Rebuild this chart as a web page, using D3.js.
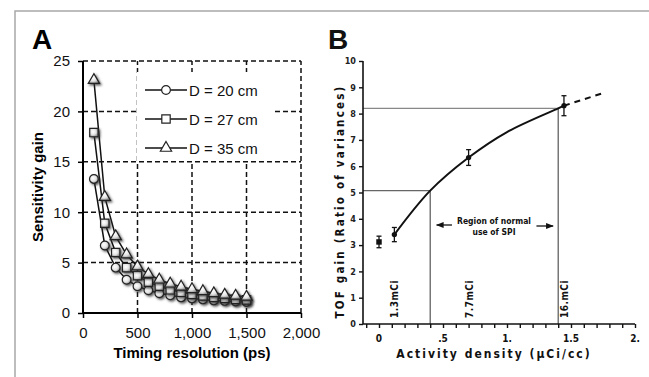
<!DOCTYPE html>
<html>
<head>
<meta charset="utf-8">
<script src="https://cdn.jsdelivr.net/npm/d3@7"></script>
<style>
  body { margin: 0; background: #fff; }
  svg { display: block; }
</style>
</head>
<body>
<div id="chart"></div>
<script>
// ---- panel A data ----
const timing = [100, 200, 300, 400, 500, 600, 700, 800, 900, 1000, 1100, 1200, 1300, 1400, 1500];
const gainD20 = [13.3, 6.7, 4.5, 3.3, 2.65, 2.25, 1.95, 1.75, 1.55, 1.45, 1.35, 1.25, 1.2, 1.15, 1.1];
const gainD27 = [17.9, 8.9, 6.0, 4.5, 3.7, 3.05, 2.65, 2.3, 2.05, 1.85, 1.7, 1.55, 1.45, 1.35, 1.3];
const gainD35 = [23.1, 11.5, 7.6, 5.8, 4.6, 3.85, 3.3, 2.9, 2.6, 2.35, 2.15, 1.95, 1.8, 1.7, 1.6];
const seriesNames = ['D = 20 cm', 'D = 27 cm', 'D = 35 cm'];
const aXTicks = [0, 500, 1000, 1500, 2000];
const aYTicks = [0, 5, 10, 15, 20, 25];

// ---- panel B data ----
const densX = [0, 0.12, 0.7, 1.445];
const tofY = [3.12, 3.4, 6.33, 8.3];
const tofErr = [0.22, 0.27, 0.3, 0.38];
const curveX = [0.12, 0.4, 0.7, 1.0, 1.4, 1.445];
const curveY = [3.4, 5.07, 6.33, 7.3, 8.2, 8.3];
const extX = [1.445, 1.75];
const extY = [8.3, 8.78];
const refX = [0.4, 1.4];
const refY = [5.07, 8.2];
const doseLabels = ['1.3mCi', '7.7mCi', '16.mCi'];
const doseX = [0.12, 0.7, 1.445];
const bXLabels = [[0, '0'], [0.5, '.5'], [1, '1.'], [1.5, '1.5'], [2, '2.']];
const bYTicks = d3.range(0, 11);
const bMinor = d3.range(-1, 21).map(d => d / 10);

const W = 649, H = 377;
const svg = d3.select('#chart').append('svg').attr('width', W).attr('height', H);

// grey frame of the figure
svg.append('path').attr('d', `M15,${H} L15,11 L${W},11`)
    .attr('fill', 'none').attr('stroke', '#a8a8a8').attr('stroke-width', 1.5);

const defs = svg.append('defs');
const grad = defs.append('radialGradient').attr('id', 'mk').attr('cx', '40%').attr('cy', '40%').attr('r', '65%');
grad.append('stop').attr('offset', '0%').attr('stop-color', '#fff');
grad.append('stop').attr('offset', '55%').attr('stop-color', '#e4e4e4');
grad.append('stop').attr('offset', '100%').attr('stop-color', '#8a8a8a');
const shadow = defs.append('filter').attr('id', 'sh').attr('x', '-50%').attr('y', '-50%').attr('width', '200%').attr('height', '200%');
shadow.append('feDropShadow').attr('dx', 1.5).attr('dy', 1.5).attr('stdDeviation', 1.2)
    .attr('flood-color', '#333').attr('flood-opacity', 0.8);

// ================= PANEL A =================
const ax = d3.scaleLinear().domain([0, 2000]).range([83, 301]);
const ay = d3.scaleLinear().domain([0, 25]).range([313, 61]);
const A = svg.append('g').attr('font-family', 'Liberation Sans, Arial, sans-serif');

A.append('text').attr('x', 32).attr('y', 49).attr('font-size', 28).attr('font-weight', 'bold').text('A');

// dashed grid
A.append('g').selectAll('line').data(aXTicks.slice(1)).join('line')
    .attr('x1', d => ax(d)).attr('x2', d => ax(d)).attr('y1', ay(0)).attr('y2', ay(25))
    .attr('stroke', '#111').attr('stroke-width', 1.5).attr('stroke-dasharray', '5,3');
A.append('g').selectAll('line').data(aYTicks.slice(1)).join('line')
    .attr('x1', ax(0)).attr('x2', ax(2000)).attr('y1', d => ay(d)).attr('y2', d => ay(d))
    .attr('stroke', '#111').attr('stroke-width', 1.5).attr('stroke-dasharray', '5,3');

// legend background hides the grid
A.append('rect').attr('x', 137).attr('y', 72).attr('width', 138).attr('height', 89).attr('fill', '#fff');

// axes
const axL = A.append('g').attr('transform', `translate(${ax(0)},0)`)
    .call(d3.axisLeft(ay).tickValues(aYTicks).tickSize(5).tickPadding(8));
const axB = A.append('g').attr('transform', `translate(0,${ay(0)})`)
    .call(d3.axisBottom(ax).tickValues(aXTicks).tickSize(5).tickPadding(9).tickFormat(d3.format(',')));
[axL, axB].forEach(g => {
    g.select('.domain').attr('stroke', '#000').attr('stroke-width', 2);
    g.selectAll('.tick line').attr('stroke', '#000').attr('stroke-width', 1.5);
    g.selectAll('text').attr('font-size', 15).attr('fill', '#111').attr('font-family', 'Liberation Sans, Arial, sans-serif');
});
axL.select('.domain').attr('d', `M0,${ay(0)}V${ay(25)}`);
axB.select('.domain').attr('d', `M${ax(0)},0H${ax(2000)}`);

A.append('text').attr('x', (ax(0) + ax(2000)) / 2).attr('y', 358).attr('text-anchor', 'middle')
    .attr('font-size', 15).attr('font-weight', 'bold').text('Timing resolution (ps)');
A.append('text').attr('transform', `translate(43,${(ay(0) + ay(25)) / 2}) rotate(-90)`).attr('text-anchor', 'middle')
    .attr('font-size', 15).attr('font-weight', 'bold').text('Sensitivity gain');

// series
const shapes = [d3.symbolCircle, d3.symbolSquare, d3.symbolTriangle];
const sizes = [60, 70, 55];
const allSeries = [gainD20, gainD27, gainD35];
const line = d3.line().x(d => ax(d[0])).y(d => ay(d[1]));
allSeries.forEach((vals, i) => {
    const pts = timing.map((t, j) => [t, vals[j]]);
    A.append('path').datum(pts).attr('d', line).attr('fill', 'none').attr('stroke', '#111').attr('stroke-width', 1.5);
});
allSeries.forEach((vals, i) => {
    const pts = timing.map((t, j) => [t, vals[j]]);
    A.append('g').selectAll('path').data(pts).join('path')
        .attr('transform', d => `translate(${ax(d[0])},${ay(d[1])})`)
        .attr('d', d3.symbol(shapes[i], sizes[i]))
        .attr('fill', 'url(#mk)').attr('stroke', '#222').attr('stroke-width', 1.2)
        .attr('filter', 'url(#sh)');
});

// legend
const lg = A.append('g');
seriesNames.forEach((name, i) => {
    const y = 90 + i * 29;
    lg.append('line').attr('x1', 145).attr('x2', 187).attr('y1', y).attr('y2', y).attr('stroke', '#111').attr('stroke-width', 1.5);
    lg.append('path').attr('transform', `translate(166,${y})`).attr('d', d3.symbol(shapes[i], sizes[i]))
        .attr('fill', '#fff').attr('stroke', '#222').attr('stroke-width', 1.2);
    lg.append('text').attr('x', 189).attr('y', y + 5.5).attr('font-size', 15).attr('fill', '#111').text(name);
});

// ================= PANEL B =================
const bx = d3.scaleLinear().domain([-0.125, 2.0]).range([363, 635]);
const by = d3.scaleLinear().domain([0, 10]).range([324, 61]);
const bFont = '"DejaVu Sans Condensed", "DejaVu Sans", sans-serif';
const B = svg.append('g').attr('font-family', bFont).attr('font-weight', 'bold').attr('fill', '#111');

B.append('text').attr('x', 328).attr('y', 49).attr('font-size', 28)
    .attr('font-family', 'Liberation Sans, Arial, sans-serif').text('B');

// reference lines
B.append('line').attr('x1', bx(-0.125)).attr('x2', bx(refX[1])).attr('y1', by(refY[1])).attr('y2', by(refY[1]))
    .attr('stroke', '#888').attr('stroke-width', 1.2);
B.append('line').attr('x1', bx(-0.125)).attr('x2', bx(refX[0])).attr('y1', by(refY[0])).attr('y2', by(refY[0]))
    .attr('stroke', '#666').attr('stroke-width', 1.2);
refX.forEach((x, i) => {
    B.append('line').attr('x1', bx(x)).attr('x2', bx(x)).attr('y1', by(refY[i])).attr('y2', by(0))
        .attr('stroke', '#555').attr('stroke-width', 1.2);
});

// axes
const bl = B.append('g').attr('transform', `translate(${bx(-0.125)},0)`)
    .call(d3.axisLeft(by).tickValues(bYTicks).tickSize(4).tickPadding(3).tickFormat(d3.format('d')));
const bb = B.append('g').attr('transform', `translate(0,${by(0)})`)
    .call(d3.axisBottom(bx).tickValues(bMinor).tickSize(4).tickFormat(''));
[bl, bb].forEach(g => {
    g.select('.domain').attr('stroke', '#111').attr('stroke-width', 1.6);
    g.selectAll('.tick line').attr('stroke', '#111').attr('stroke-width', 1.4);
});
bl.select('.domain').attr('d', `M0,${by(0)}V${by(10)}`);
bb.select('.domain').attr('d', `M${bx(-0.125)},0H${bx(2)}`);
bl.selectAll('text').attr('font-size', 9).attr('font-family', bFont).attr('font-weight', 'bold').attr('fill', '#222');
B.append('g').selectAll('text').data(bXLabels).join('text')
    .attr('x', d => bx(d[0])).attr('y', 342).attr('text-anchor', 'middle').attr('font-size', 10).text(d => d[1]);

B.append('text').attr('x', 494).attr('y', 358).attr('text-anchor', 'middle').attr('font-size', 12)
    .attr('letter-spacing', 2).text('Activity density (\u00b5Ci/cc)');
B.append('text').attr('transform', `translate(344,${(by(0) + by(10)) / 2 + 9}) rotate(-90)`).attr('text-anchor', 'middle')
    .attr('font-size', 11.5).attr('letter-spacing', 2.2).text('TOF gain (Ratio of variances)');

// curve and its extrapolation
const bline = d3.line().x(d => bx(d[0])).y(d => by(d[1])).curve(d3.curveCatmullRom);
B.append('path').datum(curveX.map((x, i) => [x, curveY[i]])).attr('d', bline)
    .attr('fill', 'none').attr('stroke', '#111').attr('stroke-width', 2);
B.append('path').datum(extX.map((x, i) => [x, extY[i]])).attr('d', bline)
    .attr('fill', 'none').attr('stroke', '#111').attr('stroke-width', 2).attr('stroke-dasharray', '6,5');

// data points with error bars
densX.forEach((x, i) => {
    const cx = bx(x);
    const g = B.append('g').attr('stroke', '#111').attr('stroke-width', 1.3);
    g.append('line').attr('x1', cx).attr('x2', cx).attr('y1', by(tofY[i] - tofErr[i])).attr('y2', by(tofY[i] + tofErr[i]));
    [tofY[i] - tofErr[i], tofY[i] + tofErr[i]].forEach(v => {
        g.append('line').attr('x1', cx - 2.5).attr('x2', cx + 2.5).attr('y1', by(v)).attr('y2', by(v));
    });
    B.append('path').attr('transform', `translate(${cx},${by(tofY[i])})`)
        .attr('d', d3.symbol(i === 0 ? d3.symbolSquare : d3.symbolCircle, i === 0 ? 30 : 22)).attr('fill', '#111');
});

// dose labels
doseLabels.forEach((t, i) => {
    B.append('text').attr('transform', `translate(${bx(doseX[i]) + 4},318) rotate(-90)`)
        .attr('font-size', 10).attr('letter-spacing', 0.5).text(t);
});

// region annotation
B.append('text').attr('x', 494).attr('y', 224).attr('text-anchor', 'middle').attr('font-size', 8.5).text('Region of normal');
B.append('text').attr('x', 494).attr('y', 235).attr('text-anchor', 'middle').attr('font-size', 8.5).text('use of SPI');
defs.append('marker').attr('id', 'ar').attr('viewBox', '0 0 10 10').attr('refX', 9).attr('refY', 5)
    .attr('markerWidth', 6).attr('markerHeight', 6).attr('orient', 'auto')
    .append('path').attr('d', 'M0,1L10,5L0,9Z').attr('fill', '#111');
B.append('line').attr('x1', bx(0.57)).attr('x2', bx(0.45)).attr('y1', 225).attr('y2', 225)
    .attr('stroke', '#111').attr('stroke-width', 1.3).attr('marker-end', 'url(#ar)');
B.append('line').attr('x1', bx(1.23)).attr('x2', bx(1.36)).attr('y1', 226).attr('y2', 226)
    .attr('stroke', '#111').attr('stroke-width', 1.3).attr('marker-end', 'url(#ar)');
</script>
</body>
</html>
